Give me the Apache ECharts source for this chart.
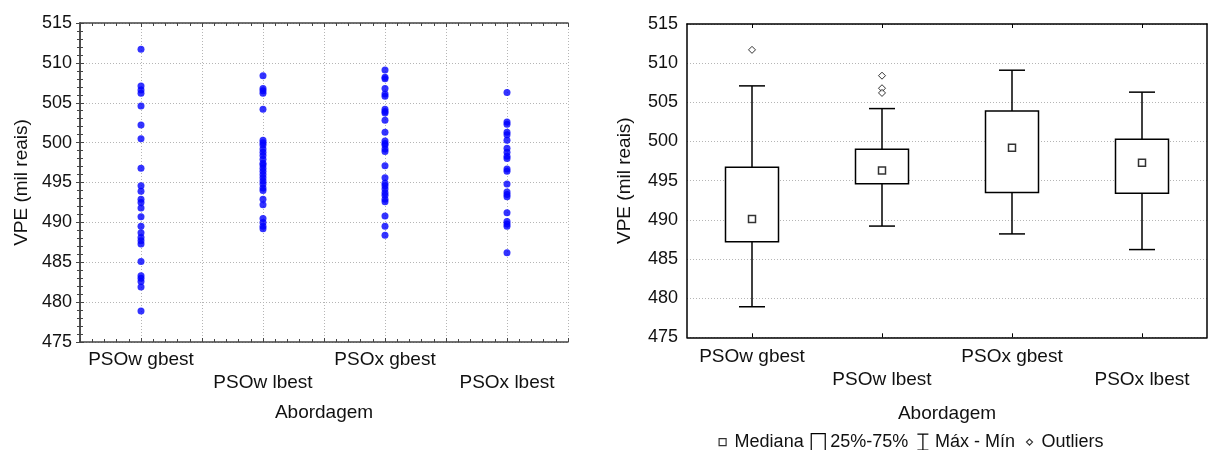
<!DOCTYPE html>
<html>
<head>
<meta charset="utf-8">
<script src="https://cdn.jsdelivr.net/npm/echarts@6/dist/echarts.min.js"></script>
<style>
  html, body { margin: 0; padding: 0; background: #fff; }
  #chart { width: 1208px; height: 450px; }
</style>
</head>
<body>
<div id="chart"></div>
<script>
// Approaches compared
const categories = ['PSOw gbest', 'PSOw lbest', 'PSOx gbest', 'PSOx lbest'];

// Individual VPE results (mil reais) for each approach
const psowGbest = [511.7, 507.1, 506.6, 506.2, 504.6, 502.2, 500.5, 496.8, 494.6, 493.9, 492.9, 492.5, 491.8,
  490.7, 489.5, 488.7, 488.1, 487.7, 487.3, 485.1, 483.3, 483.0, 482.6, 481.9, 478.9];
const psowLbest = [508.4, 506.8, 506.5, 506.2, 504.2, 500.3, 500.0, 499.7, 499.2, 498.8, 498.4, 497.9, 497.4,
  497.2, 496.8, 496.4, 496.0, 495.6, 495.2, 494.8, 494.3, 494.0, 492.9, 492.2, 490.5, 490.0, 489.5, 489.2];
const psoxGbest = [509.1, 508.2, 508.0, 506.8, 506.1, 505.8, 504.2, 503.9, 503.7, 502.8, 501.3, 500.2, 499.9,
  499.7, 499.2, 498.9, 497.1, 495.6, 494.9, 494.6, 494.2, 493.7, 493.4, 492.9, 492.6, 490.8, 489.5, 488.4];
const psoxLbest = [506.3, 502.6, 502.3, 501.3, 501.0, 500.3, 499.3, 498.8, 498.3, 498.0, 496.7, 496.4, 494.8,
  493.8, 493.5, 493.2, 491.2, 490.1, 489.8, 489.5, 486.2];
const groups = [psowGbest, psowLbest, psoxGbest, psoxLbest];

// Box plot summary per approach
const boxMin = [478.9, 489.2, 488.2, 486.2];
const boxQ1 = [487.2, 494.6, 493.5, 493.4];
const boxMedian = [490.1, 496.3, 499.2, 497.3];
const boxQ3 = [496.7, 499.0, 503.9, 500.3];
const boxMax = [507.1, 504.2, 509.1, 506.3];
const outlierGroup = [0, 1, 1, 1];
const outlierValue = [511.7, 508.4, 506.8, 506.2];

// Value axis ticks
const yMin = 475, yMax = 515, yStep = 5;

const TXT = '#111';
const FONT = '"Liberation Sans", Arial, sans-serif';
const dotted = { color: '#b5b5b5', width: 1, type: [1, 2] };

const scatterData = [];
groups.forEach((g, i) => g.forEach(v => scatterData.push([i, v])));

const staggered = (v, i) => (i % 2 ? '\n' + v : v);

const chart = echarts.init(document.getElementById('chart'), null, { renderer: 'canvas' });

const option = {
  animation: false,
  textStyle: { fontFamily: FONT, color: TXT },
  grid: [
    { left: 80, top: 23, width: 488, bottom: 108 },
    { left: 687, top: 24, width: 520, bottom: 112.7 }
  ],
  legend: {
    left: 715, top: 433, padding: 0,
    itemWidth: 14, itemHeight: 17, itemGap: 7,
    selectedMode: false,
    textStyle: { fontSize: 18, color: TXT, fontFamily: FONT },
    itemStyle: { color: '#fff', borderColor: '#000', borderWidth: 1.2 },
    data: [
      { name: 'Mediana', icon: 'path://M0 0M14 17M3.5 5h7v7h-7Z' },
      { name: '25%-75%', icon: 'path://M0 0h14v17h-14Z' },
      { name: 'Máx - Mín', icon: 'path://M0 0M14 17M1.5 0.5H12.5M7 0.5V16.5M1.5 16.5H12.5' },
      { name: 'Outliers', icon: 'path://M0 0M14 17M7 5.5L10 8.5L7 11.5L4 8.5Z' }
    ]
  },
  xAxis: [
    // left chart: category labels
    {
      gridIndex: 0, type: 'category', data: categories, boundaryGap: true,
      axisLine: { show: true, lineStyle: { color: '#444', width: 1.5 } },
      axisTick: { show: false },
      splitLine: { show: false },
      axisLabel: { interval: 0, formatter: staggered, margin: 6, lineHeight: 23, fontSize: 19, color: TXT },
      name: 'Abordagem', nameLocation: 'middle', nameGap: 61,
      nameTextStyle: { fontSize: 19, color: TXT, lineHeight: 20 }
    },
    // left chart: half-band grid and minor ticks (bottom)
    {
      gridIndex: 0, type: 'value', min: 0, max: 8, interval: 1, position: 'bottom',
      axisLine: { show: false },
      axisTick: { show: true, inside: true, length: 4, lineStyle: { color: '#444' } },
      minorTick: { show: true, splitNumber: 5, length: 3, lineStyle: { color: '#444' } },
      axisLabel: { show: false },
      splitLine: { show: true, lineStyle: dotted }
    },
    // left chart: top frame
    {
      gridIndex: 0, type: 'value', min: 0, max: 8, interval: 1, position: 'top',
      axisLine: { show: true, lineStyle: { color: '#444', width: 1.5 } },
      axisTick: { show: true, inside: true, length: 4, lineStyle: { color: '#444' } },
      minorTick: { show: true, splitNumber: 5, length: 3, lineStyle: { color: '#444' } },
      axisLabel: { show: false },
      splitLine: { show: false }
    },
    // right chart: category labels
    {
      gridIndex: 1, type: 'category', data: categories, boundaryGap: true, position: 'bottom',
      axisLine: { show: true, lineStyle: { color: '#000', width: 1.5 } },
      axisTick: { show: true, inside: true, alignWithLabel: true, length: 4, lineStyle: { color: '#000' } },
      splitLine: { show: false },
      axisLabel: { interval: 0, formatter: staggered, margin: 7.5, lineHeight: 23, fontSize: 19, color: TXT },
      name: 'Abordagem', nameLocation: 'middle', nameGap: 66,
      nameTextStyle: { fontSize: 19, color: TXT, lineHeight: 20 }
    },
    // right chart: top frame
    {
      gridIndex: 1, type: 'category', data: categories, boundaryGap: true, position: 'top',
      axisLine: { show: true, lineStyle: { color: '#000', width: 1.5 } },
      axisTick: { show: true, inside: true, alignWithLabel: true, length: 4, lineStyle: { color: '#000' } },
      axisLabel: { show: false },
      splitLine: { show: false }
    }
  ],
  yAxis: [
    {
      gridIndex: 0, type: 'value', min: yMin, max: yMax, interval: yStep, position: 'left',
      axisLine: { show: true, lineStyle: { color: '#444', width: 1.5 } },
      axisTick: { show: true, inside: true, length: 4, lineStyle: { color: '#444' } },
      minorTick: { show: true, splitNumber: 5, length: 3, lineStyle: { color: '#444' } },
      splitLine: { show: true, lineStyle: dotted },
      axisLabel: { fontSize: 18, color: TXT, margin: 8 },
      name: 'VPE (mil reais)', nameLocation: 'middle', nameGap: 49, nameRotate: 90,
      nameTextStyle: { fontSize: 19, color: TXT }
    },
    {
      gridIndex: 0, type: 'value', min: yMin, max: yMax, interval: yStep, position: 'right',
      axisLine: { show: true, lineStyle: { color: '#444', width: 1.5 } },
      axisTick: { show: true, inside: true, length: 4, lineStyle: { color: '#444' } },
      minorTick: { show: true, splitNumber: 5, length: 3, lineStyle: { color: '#444' } },
      splitLine: { show: false },
      axisLabel: { show: false }
    },
    {
      gridIndex: 1, type: 'value', min: yMin, max: yMax, interval: yStep, position: 'left',
      axisLine: { show: true, lineStyle: { color: '#000', width: 1.5 } },
      axisTick: { show: false },
      splitLine: { show: true, lineStyle: dotted },
      axisLabel: { fontSize: 18, color: TXT, margin: 9 },
      name: 'VPE (mil reais)', nameLocation: 'middle', nameGap: 53, nameRotate: 90,
      nameTextStyle: { fontSize: 19, color: TXT }
    },
    {
      gridIndex: 1, type: 'value', min: yMin, max: yMax, interval: yStep, position: 'right',
      axisLine: { show: true, lineStyle: { color: '#000', width: 1.5 } },
      axisTick: { show: false },
      splitLine: { show: false },
      axisLabel: { show: false }
    }
  ],
  series: [
    {
      name: 'VPE', type: 'scatter', xAxisIndex: 0, yAxisIndex: 0,
      symbol: 'circle', symbolSize: 7,
      itemStyle: { color: '#0000ff' },
      data: scatterData, z: 5
    },
    {
      name: 'Máx - Mín', type: 'custom', xAxisIndex: 3, yAxisIndex: 2,
      encode: { x: 0, y: [1, 2, 3, 4] },
      data: categories.map((c, i) => [i, boxMin[i], boxMax[i], boxQ1[i], boxQ3[i]]),
      renderItem: (params, api) => {
        const x = api.value(0);
        const lo = api.coord([x, api.value(1)]);
        const hi = api.coord([x, api.value(2)]);
        const q1 = api.coord([x, api.value(3)]);
        const q3 = api.coord([x, api.value(4)]);
        const half = 13;
        const st = { stroke: '#000', lineWidth: 1.5 };
        return {
          type: 'group',
          children: [
            { type: 'line', shape: { x1: hi[0], y1: hi[1], x2: q3[0], y2: q3[1] }, style: st },
            { type: 'line', shape: { x1: q1[0], y1: q1[1], x2: lo[0], y2: lo[1] }, style: st },
            { type: 'line', shape: { x1: hi[0] - half, y1: hi[1], x2: hi[0] + half, y2: hi[1] }, style: st },
            { type: 'line', shape: { x1: lo[0] - half, y1: lo[1], x2: lo[0] + half, y2: lo[1] }, style: st }
          ]
        };
      },
      z: 3
    },
    {
      name: '25%-75%', type: 'custom', xAxisIndex: 3, yAxisIndex: 2,
      encode: { x: 0, y: [1, 2] },
      data: categories.map((c, i) => [i, boxQ1[i], boxQ3[i]]),
      renderItem: (params, api) => {
        const x = api.value(0);
        const q1 = api.coord([x, api.value(1)]);
        const q3 = api.coord([x, api.value(2)]);
        const w = 53;
        return {
          type: 'rect',
          shape: { x: q1[0] - w / 2, y: q3[1], width: w, height: q1[1] - q3[1] },
          style: { fill: '#fff', stroke: '#000', lineWidth: 1.5 }
        };
      },
      z: 4
    },
    {
      name: 'Mediana', type: 'scatter', xAxisIndex: 3, yAxisIndex: 2,
      symbol: 'rect', symbolSize: 7,
      itemStyle: { color: '#fff', borderColor: '#000', borderWidth: 1.5 },
      data: boxMedian.map((v, i) => [i, v]), z: 6
    },
    {
      name: 'Outliers', type: 'scatter', xAxisIndex: 3, yAxisIndex: 2,
      symbol: 'diamond', symbolSize: 7,
      itemStyle: { color: '#fff', borderColor: '#000', borderWidth: 1 },
      data: outlierValue.map((v, i) => [outlierGroup[i], v]), z: 6
    }
  ]
};

chart.setOption(option);
</script>
</body>
</html>
